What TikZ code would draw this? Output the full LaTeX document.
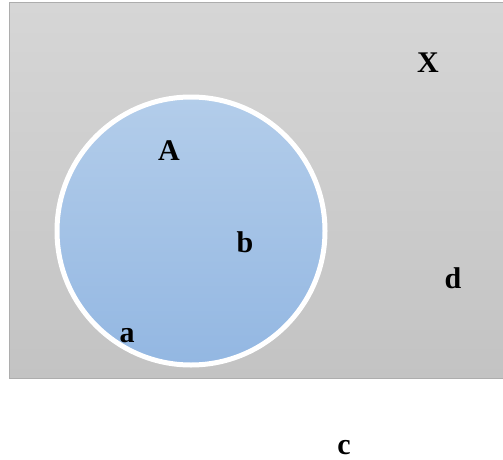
\documentclass[tikz,border=0pt]{standalone}
\usepackage{fontspec}
\setmainfont{Liberation Serif}
\definecolor{univtop}{HTML}{D6D6D6}
\definecolor{univbot}{HTML}{C3C3C3}
\definecolor{univline}{HTML}{ADADAD}
\definecolor{settop}{HTML}{B3CDEA}
\definecolor{setbot}{HTML}{93B7E2}
\begin{document}
\begin{tikzpicture}[x=1pt,y=-1pt,
    universe/.style={draw=univline,line width=1.2pt,top color=univtop,bottom color=univbot},
    setA/.style={circle,draw=white,line width=5pt,top color=settop,bottom color=setbot,
      minimum size=268pt,inner sep=0pt},
    elem/.style={anchor=base,inner sep=0pt,font=\fontsize{30}{36}\selectfont\bfseries}]
  \useasboundingbox (0,0) rectangle (503,460);
  % universe and the set
  \draw[universe] (9.5,2.5) rectangle (510,378.5);
  \node[setA] (setA) at (191,231) {};
  % labels
  \node[elem] (labX) at (428,72.5) {X};
  \node[elem] (labA) at (169,160) {A};
  \node[elem] (labb) at (245,252) {b};
  \node[elem] (laba) at (127,342) {a};
  \node[elem] (labd) at (453,288) {d};
  \node[elem] (labc) at (344,454) {c};
\end{tikzpicture}
\end{document}
